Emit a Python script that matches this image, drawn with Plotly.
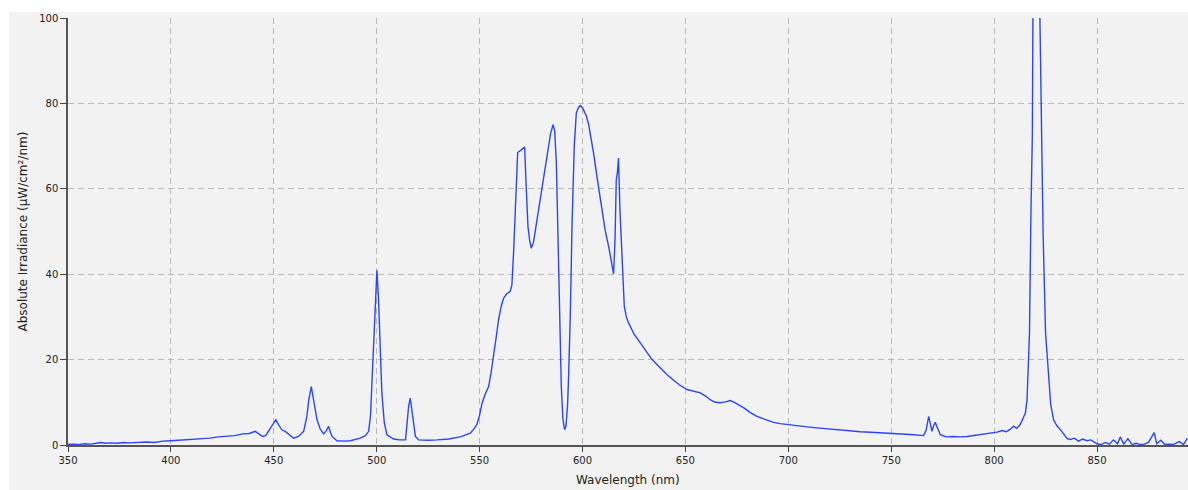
import plotly.graph_objects as go

wavelength = [
    350, 352, 355, 358, 361, 364, 366, 368, 371, 374, 377, 380, 384, 388, 392, 396,
    400, 404, 408, 411, 415, 419, 423, 427, 431, 435, 438, 441, 443, 444.5, 446, 448,
    449.5, 451, 452.5, 454, 455.6, 457, 459.6, 462, 464.5, 466, 467, 468.2, 469.3, 471,
    472.5, 474.2, 475.5, 476.6, 477.5, 478.3, 480.7, 484, 487.2, 490, 492, 494.5, 496.1,
    497, 497.7, 498.8, 499.5, 500.1, 500.9, 501.7, 502.5, 503.7, 505, 508.2, 511, 514,
    514.3, 514.7, 515.5, 516.3, 517, 517.6, 518.8, 520.4, 525, 529.3, 535, 540.6, 543,
    545.5, 547, 548.7, 550, 551.2, 552.8, 554.4, 555.6, 556.8, 558, 559.2, 560.5, 561.7,
    563, 564.9, 565.7, 566.5, 567.2, 567.8, 568.5, 570, 571.9, 572.5, 573.5, 574.3,
    575.1, 576.2, 577.5, 579, 580, 581, 582, 583.3, 584.5, 585.7, 586.5, 587.3, 587.8,
    588.3, 588.9, 589.7, 590.5, 591.3, 592, 592.7, 593.2, 594.1, 594.9, 595.5, 596, 597,
    598, 598.9, 600, 601, 601.9, 603, 603.8, 605.5, 607, 608.3, 609.5, 611, 612.7, 614,
    615.1, 615.8, 616.4, 617, 617.5, 618.2, 619.2, 620.3, 621.3, 622.4, 625, 628.1, 631,
    633.8, 637.5, 641, 644, 647, 650.8, 654, 657.2, 660, 662, 664.5, 667, 669.5, 671.8,
    674, 676.7, 679, 681.5, 684.8, 688, 692.8, 696, 700.1, 704, 708, 713.9, 719, 724,
    730.1, 735, 740, 745, 749.5, 753, 757, 761, 765.7, 767, 768.2, 769, 769.8, 770.6,
    771.4, 772.5, 773.9, 775.5, 777.1, 780, 783.6, 786.8, 790, 794.9, 798, 801.4, 804,
    806, 807.9, 809.5, 811, 812.7, 814.3, 815.2, 816, 817.2, 817.9, 818.6, 818.9, 819.5,
    820.5, 821.5, 822.1, 822.5, 823, 823.8, 825, 826.5, 827.5, 828.9, 830.5, 832.2, 834,
    835.5, 837, 839, 841, 843, 845.1, 847, 850, 852, 854, 856, 858, 860, 861.3, 863, 865,
    867, 869, 871, 873, 875, 877.8, 879, 881, 883, 885, 887, 890, 892, 894,
]

irradiance = [
    0.1, 0.2, 0.1, 0.3, 0.2, 0.5, 0.6, 0.4, 0.5, 0.4, 0.6, 0.5, 0.6, 0.7, 0.6, 0.9,
    1.0, 1.1, 1.2, 1.4, 1.5, 1.6, 1.9, 2.0, 2.2, 2.6, 2.7, 3.2, 2.6, 2.0, 2.2, 3.6,
    4.8, 5.9, 4.6, 3.5, 3.2, 2.6, 1.6, 2.0, 3.2, 6.5, 10.5, 13.7, 10.6, 5.9,
    3.8, 2.6, 3.3, 4.4, 3.0, 2.0, 1.0, 0.9, 1.0, 1.3, 1.6, 2.2, 3.2,
    7.0, 15.3, 28.6, 34.8, 40.9, 34.0, 20.7, 12.2, 5.2, 2.4, 1.4, 1.2, 1.2,
    3.0, 5.9, 9.0, 11.0, 8.5, 5.9, 2.0, 1.2, 1.1, 1.2, 1.4, 1.9, 2.3,
    2.8, 3.6, 4.8, 7.0, 9.8, 12.0, 13.7, 17.0, 20.7, 25.0, 29.3, 32.5, 34.4,
    35.3, 36.0, 37.5, 45.0, 52.0, 60.5, 68.5, 69.0, 69.8, 62.0, 51.2, 48.0,
    46.1, 47.5, 51.5, 56.0, 59.8, 63.0, 66.0, 70.0, 73.0, 75.0, 73.5, 66.0, 55.0,
    40.0, 26.2, 13.7, 6.0, 3.6, 4.5, 9.0, 15.3, 30.9, 51.2, 62.0, 70.0, 77.8,
    79.0, 79.5, 79.0, 78.0, 77.0, 75.0, 73.0, 68.0, 62.9, 58.5, 54.3, 50.3, 46.5, 43.0,
    40.1, 48.0, 62.0, 64.0, 67.2, 55.0, 42.6, 32.5, 30.0, 28.6, 26.0, 23.9, 21.8,
    20.0, 18.2, 16.5, 15.3, 14.1, 13.0, 12.6, 12.2, 11.4, 10.6, 10.0, 9.9, 10.1, 10.4,
    9.9, 9.2, 8.5, 7.6, 6.7, 6.1, 5.3, 5.0, 4.7, 4.5, 4.3, 4.0, 3.8, 3.5,
    3.2, 3.1, 3.0, 2.9, 2.8, 2.7, 2.5, 2.4, 2.2, 3.5, 6.7, 5.0, 3.2, 4.5,
    5.3, 4.0, 2.4, 2.1, 1.9, 2.0, 1.9, 2.0, 2.2, 2.6, 2.8, 3.0, 3.4,
    3.1, 3.7, 4.4, 3.9, 4.8, 6.5, 7.5, 10.6, 26.3, 54.4, 73.0, 105.0, 125.0,
    130.0, 125.0, 105.0, 91.0, 70.8, 49.7, 26.3, 14.5, 9.5, 5.9, 4.5, 3.6, 2.5,
    1.5, 1.3, 1.6, 0.9, 1.4, 1.0, 1.2, 0.3, 0.1, 0.6, 0.2, 1.2, 0.3, 1.9, 0.2, 1.5,
    0.1, 0.4, 0.1, 0.2, 0.6, 2.9, 0.3, 1.1, 0.1, 0.2, 0.1, 0.8, 0.1, 1.6,
]

x_ticks = [350, 400, 450, 500, 550, 600, 650, 700, 750, 800, 850]
y_ticks = [0, 20, 40, 60, 80, 100]

W, H = 1188, 490
L, R, T, B = 68, 0, 18, 45
pw, ph = W - L - R, H - T - B

fig = go.Figure()
fig.add_trace(go.Scatter(
    x=wavelength, y=irradiance, mode="lines",
    line=dict(color="#2a45ff", width=1.4), hoverinfo="x+y", showlegend=False,
))

grid = dict(showgrid=True, gridcolor="#b8b8b8", gridwidth=1, griddash="6px,4px")
tickfont = dict(family="DejaVu Sans", size=10, color="#222222")

fig.update_layout(
    width=W, height=H,
    margin=dict(l=L, r=R, t=T, b=B, pad=0),
    paper_bgcolor="white",
    plot_bgcolor="#f2f2f2",
    xaxis=dict(
        range=[350, 350 + pw / 2.058], tickvals=x_ticks, ticktext=[str(v) for v in x_ticks],
        ticks="outside", ticklen=5, tickcolor="#444444", tickwidth=1,
        showline=True, linecolor="#555555", linewidth=2, zeroline=False,
        tickfont=tickfont, **grid,
    ),
    yaxis=dict(
        range=[0, 100], tickvals=y_ticks, ticktext=[str(v) for v in y_ticks],
        ticks="outside", ticklen=6, tickcolor="#444444", tickwidth=1,
        showline=True, linecolor="#555555", linewidth=1.5, zeroline=False,
        tickfont=tickfont, **grid,
    ),
    shapes=[dict(
        type="rect", xref="paper", yref="paper", layer="below",
        x0=(9 - L) / pw, x1=1.0, y0=-(B) / ph, y1=(H - B - 12) / ph,
        fillcolor="#f2f2f2", line=dict(width=0),
    )],
    annotations=[
        dict(text="Wavelength (nm)", xref="paper", yref="paper",
             x=0.5, y=(H - B - 480) / ph, xanchor="center", yanchor="middle",
             showarrow=False, font=dict(family="DejaVu Sans", size=12, color="#222222")),
        dict(text="Absolute Irradiance (µW/cm²/nm)", xref="paper", yref="paper",
             x=(22 - L) / pw, y=0.5, xanchor="center", yanchor="middle", textangle=-90,
             showarrow=False, font=dict(family="DejaVu Sans", size=12, color="#222222")),
    ],
)

fig.write_html(
    "out.html",
    config={"displayModeBar": False},
    post_script="document.body.style.margin='0';document.body.style.overflow='hidden';",
)
